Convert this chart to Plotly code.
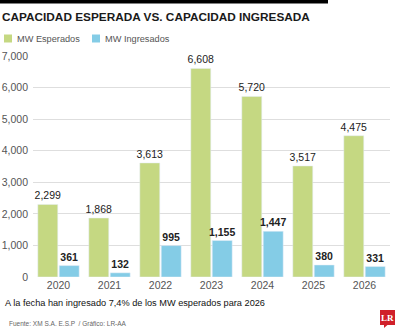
import plotly.graph_objects as go

years = ["2020", "2021", "2022", "2023", "2024", "2025", "2026"]
esperados = [2299, 1868, 3613, 6608, 5720, 3517, 4475]
ingresados = [361, 132, 995, 1155, 1447, 380, 331]
y_ticks = [0, 1000, 2000, 3000, 4000, 5000, 6000, 7000]
series_names = ["MW Esperados", "MW Ingresados"]

FONT = "Liberation Sans, Arial, sans-serif"
GREEN = "#c5d882"
BLUE = "#84cce6"

L, R, T, B = 33, 10, 56, 56
W, H = 400, 333
pw, ph = W - L - R, H - T - B

def px(x):
    return (x - L) / pw

def py(y):
    return (H - B - y) / ph

fig = go.Figure()
fig.add_trace(go.Bar(
    x=years, y=esperados, name=series_names[0], marker_color=GREEN,
    texttemplate="%{y:,}", textposition="outside", constraintext="none",
    textfont=dict(family=FONT, size=10.5, color="#222"), cliponaxis=False,
))
fig.add_trace(go.Bar(
    x=years, y=ingresados, name=series_names[1], marker_color=BLUE,
    texttemplate="<b>%{y:,}</b>", textposition="outside", constraintext="none",
    textfont=dict(family=FONT, size=10.5, color="#222"), cliponaxis=False,
))

fig.update_layout(
    width=W, height=H,
    margin=dict(l=L, r=R, t=T, b=B, autoexpand=False),
    paper_bgcolor="white", plot_bgcolor="white",
    barmode="group", bargap=0.16, bargroupgap=0.07,
    font=dict(family=FONT, color="#555"),
    showlegend=False,
    xaxis=dict(showgrid=False, showline=False, ticks="", automargin=False,
               tickfont=dict(family=FONT, size=10.5, color="#555")),
    yaxis=dict(range=[0, 7000], tickvals=y_ticks, tickformat=",",
               showgrid=True, gridcolor="#dedede", gridwidth=1,
               zeroline=False, showline=False, ticks="", automargin=False,
               ticklabelstandoff=4,
               tickfont=dict(family=FONT, size=10.5, color="#555")),
)

fig.add_shape(type="rect", xref="paper", yref="paper",
              x0=px(0), x1=px(328), y0=py(0), y1=py(3.5),
              fillcolor="black", line_width=0)

fig.add_annotation(text="<b>CAPACIDAD ESPERADA VS. CAPACIDAD INGRESADA</b>",
                   xref="paper", yref="paper", x=px(0), y=py(17),
                   xanchor="left", yanchor="middle", showarrow=False,
                   font=dict(family=FONT, size=11.8, color="#1a1a1a"))

# legend
legend_x = [4, 92]
for name, color, lx in zip(series_names, [GREEN, BLUE], legend_x):
    fig.add_shape(type="rect", xref="paper", yref="paper",
                  x0=px(lx), x1=px(lx + 8), y0=py(34.5), y1=py(42.5),
                  fillcolor=color, line_width=0)
    fig.add_annotation(text=name, xref="paper", yref="paper",
                       x=px(lx + 11), y=py(38.5), xanchor="left", yanchor="middle",
                       showarrow=False,
                       font=dict(family=FONT, size=9.2, color="#555"))

fig.add_annotation(text="A la fecha han ingresado 7,4% de los MW esperados para 2026",
                   xref="paper", yref="paper", x=px(3), y=py(303),
                   xanchor="left", yanchor="middle", showarrow=False,
                   font=dict(family=FONT, size=9.2, color="#111"))

fig.add_annotation(text="Fuente: XM S.A. E.S.P  / Gráfico: LR-AA",
                   xref="paper", yref="paper", x=px(7), y=py(323),
                   xanchor="left", yanchor="middle", showarrow=False,
                   font=dict(family=FONT, size=6.5, color="#666"))

# LR logo
fig.add_shape(type="rect", xref="paper", yref="paper",
              x0=px(380), x1=px(395), y0=py(310), y1=py(325),
              fillcolor="#d0202a", line_width=0)
fig.add_shape(type="path", xref="paper", yref="paper",
              path=f"M {px(384)} {py(324.5)} L {px(388)} {py(324.5)} L {px(384)} {py(328)} Z",
              fillcolor="#d0202a", line_width=0)
fig.add_annotation(text="<b>LR</b>", xref="paper", yref="paper",
                   x=px(387.5), y=py(317.5), xanchor="center", yanchor="middle",
                   showarrow=False,
                   font=dict(family="Liberation Serif, DejaVu Serif, serif", size=9, color="white"))

fig.write_html("out.html")
